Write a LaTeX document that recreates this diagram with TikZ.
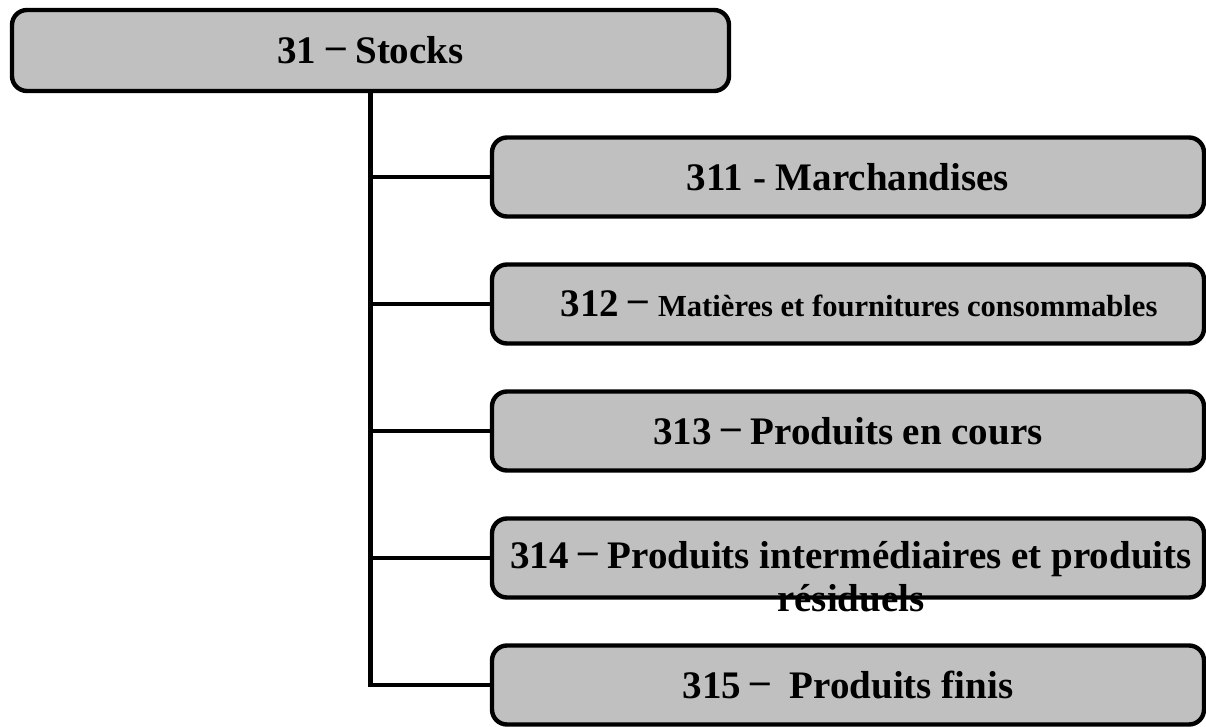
\documentclass[tikz,border=0pt]{standalone}
\usepackage{fontspec}
\setmainfont{Liberation Serif}
\usetikzlibrary{positioning}
\definecolor{boxgray}{RGB}{192,192,192}
\newcommand{\updash}{\raisebox{.13em}{--}}

\begin{document}
\begin{tikzpicture}[x=1pt,y=-1pt,line width=4.4pt,node distance=127pt,on grid,
    big text/.style={font=\bfseries\fontsize{39}{43}\selectfont},
    root box/.style={rectangle,draw,fill=boxgray,rounded corners=15pt,
      minimum width=717pt,minimum height=81pt,big text},
    sub box/.style={rectangle,draw,fill=boxgray,rounded corners=15pt,
      minimum width=712pt,minimum height=79pt,big text}]

    \useasboundingbox (0,0) rectangle (1206,727);

    \node[root box] (0) at (370.5,50.5) {31 \updash\ Stocks};

    % Sub-accounts
    \node[sub box] (1) at (848,177) {311 - Marchandises};
    \node[sub box] (2) [below=of 1] {\hspace{22pt}312 \updash\ {\fontsize{30.6}{33}\selectfont Matières et fournitures consommables}};
    \node[sub box] (3) [below=of 2] {313 \updash\ Produits en cours};
    \node[sub box] (4) [below=of 3] {};
    \node[sub box] (5) [below=of 4] {315 \updash\ \ Produits finis};

    % Text running over the box border
    \node[big text,align=center] (4t) at (851,577)
      {314 \updash\ Produits intermédiaires et produits\\résiduels};

    % Tree connections
    \path[draw]
    (0.south) |- (1.west)
    (0.south) |- (2.west)
    (0.south) |- (3.west)
    (0.south) |- (4.west)
    (0.south) |- (5.west);
  \end{tikzpicture}
\end{document}
